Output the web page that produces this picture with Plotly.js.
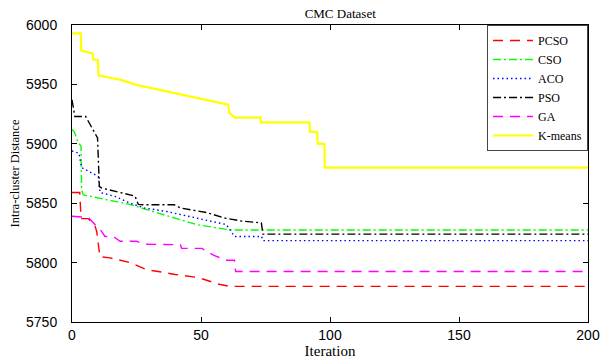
<!DOCTYPE html>
<html>
<head>
<meta charset="utf-8">
<script src="https://cdn.plot.ly/plotly-3.0.1.min.js"></script>
<style>html,body{margin:0;padding:0;background:#fff;}#chart{width:600px;height:360px;}</style>
</head>
<body>
<div id="chart"></div>
<script>
const seriesNames = ["PCSO", "CSO", "ACO", "PSO", "GA", "K-means"];

const pcsoIter = [0, 3, 3.5, 6.3, 8.9, 9.6, 10.8, 14.7, 22.5, 29, 35, 40, 47, 51, 56.6, 61, 200];
const pcsoDist = [5859, 5859, 5837, 5837, 5831, 5826, 5805, 5804, 5800, 5794, 5792, 5790, 5788, 5786, 5782, 5780, 5780];

const csoIter = [0, 0.9, 2.4, 3.5, 3.7, 4.4, 16.7, 22.5, 28.3, 35.4, 48.3, 54, 61.2, 200];
const csoDist = [5912, 5910, 5901, 5898, 5861, 5857, 5851.5, 5849, 5845, 5840.3, 5832, 5830, 5827.5, 5827.5];

const acoIter = [0, 2.7, 3.7, 10.2, 10.9, 16.7, 22.5, 28, 36.7, 48, 54.6, 59.8, 63, 73.5, 74, 200];
const acoDist = [5894, 5892, 5880, 5872.5, 5859, 5855.7, 5850, 5846, 5843, 5837.6, 5835, 5832, 5822, 5822, 5818.5, 5818.5];

const psoIter = [0, 1.1, 5.3, 8.9, 9.9, 10.6, 11.6, 24.4, 25.7, 28, 39.6, 42, 52.4, 59, 65.6, 73.4, 74, 200];
const psoDist = [5937, 5923, 5923, 5909, 5905, 5864, 5862.7, 5856, 5849, 5848.7, 5848.7, 5846, 5842, 5837.6, 5835, 5833.4, 5824, 5824];

const gaIter = [0, 6.3, 8.9, 10.9, 12.8, 16, 18.6, 25, 28, 42, 42.5, 50.3, 55, 60, 63, 63.4, 200];
const gaDist = [5839, 5838, 5832, 5828, 5822, 5822, 5818, 5818, 5815.5, 5815, 5812, 5812, 5806, 5802, 5802, 5792.5, 5792.5];

const kmeansIter = [0, 3.4, 3.6, 8, 8.3, 10, 10.3, 18.6, 25, 34, 40, 49.6, 60.5, 61, 63, 73, 73.2, 92, 92.3, 95, 95.3, 97.8, 98, 200];
const kmeansDist = [5993, 5993, 5978.5, 5976, 5971, 5970.5, 5957.5, 5954, 5949.6, 5945.4, 5942, 5938, 5933, 5926, 5922, 5922, 5918, 5918, 5910, 5910, 5900, 5900, 5880, 5880];

const xTicks = [0, 50, 100, 150, 200];
const yTicks = [5750, 5800, 5850, 5900, 5950, 6000];

const styles = [
  {color: "#ff0000", dash: "10px,7px", width: 1.4},
  {color: "#00ff00", dash: "8px,3px,2px,3px", width: 1.4},
  {color: "#0000ff", dash: "1.5px,3px", width: 1.4},
  {color: "#000000", dash: "8px,3px,2px,3px", width: 1.4},
  {color: "#ff00ff", dash: "10px,7px", width: 1.4},
  {color: "#ffff00", dash: "solid", width: 2.2}
];
const xs = [pcsoIter, csoIter, acoIter, psoIter, gaIter, kmeansIter];
const ys = [pcsoDist, csoDist, acoDist, psoDist, gaDist, kmeansDist];

const traces = seriesNames.map((n, i) => ({
  x: xs[i], y: ys[i], name: n, type: "scatter", mode: "lines",
  line: {color: styles[i].color, dash: styles[i].dash, width: styles[i].width}
}));

const serif = "Liberation Serif, Times New Roman, serif";
const sans = "Liberation Sans, Arial, sans-serif";

const layout = {
  width: 600, height: 360,
  margin: {l: 72, r: 12, t: 25, b: 38},
  paper_bgcolor: "#fff", plot_bgcolor: "#fff",
  title: {text: "CMC Dataset", font: {family: serif, size: 13, color: "#000"},
          x: 0.567, xref: "container", xanchor: "center", y: 1 - 13/360, yref: "container", yanchor: "middle"},
  xaxis: {
    range: [0, 200], tickvals: xTicks, ticktext: xTicks.map(String),
    ticks: "inside", ticklen: 5, tickcolor: "#000", mirror: "ticks",
    showline: true, linecolor: "#000", linewidth: 1, showgrid: false, zeroline: false,
    tickfont: {family: sans, size: 14, color: "#000"},
    title: {text: "Iteration", font: {family: serif, size: 15, color: "#000"}, standoff: 1}
  },
  yaxis: {
    range: [5750, 6000], tickvals: yTicks, ticktext: yTicks.map(String),
    ticks: "inside", ticklen: 5, tickcolor: "#000", mirror: "ticks",
    showline: true, linecolor: "#000", linewidth: 1, showgrid: false, zeroline: false,
    ticklabelstandoff: 11,
    tickfont: {family: sans, size: 14, color: "#000"},
    title: {text: "Intra-cluster Distance", font: {family: serif, size: 12.5, color: "#000"}, standoff: 3}
  },
  legend: {
    x: 1, y: 1, xanchor: "right", yanchor: "top",
    bgcolor: "#fff", bordercolor: "#444", borderwidth: 1,
    font: {family: serif, size: 12, color: "#000"},
    itemwidth: 40, tracegroupgap: 0
  },
  showlegend: true
};

Plotly.newPlot("chart", traces, layout, {displayModeBar: false, staticPlot: true});
</script>
</body>
</html>
